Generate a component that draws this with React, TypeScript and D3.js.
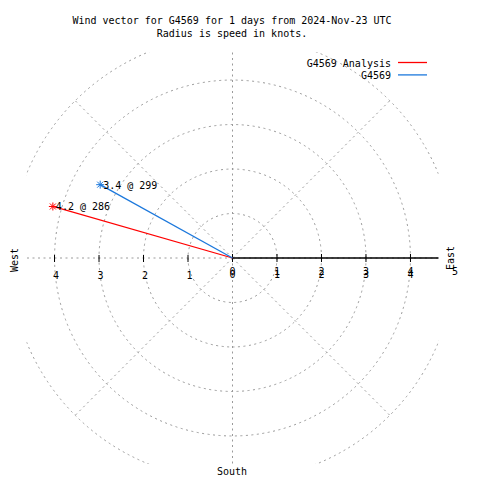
import React from "react";
import * as d3 from "d3";

// ---- data ----
const titleLines = [
  "Wind vector for G4569 for 1 days from 2024-Nov-23 UTC",
  "Radius is speed in knots.",
];
const seriesNames = ["G4569 Analysis", "G4569"];
const speeds = [4.2, 3.4]; // knots
const directions = [286, 299]; // degrees (compass)
const seriesColors = ["#ff0000", "#1c78dc"];
const ringValues = [1, 2, 3, 4, 5];
const spokeAngles = [0, 45, 90, 135, 180, 225, 270, 315];
const rightTicks = [0, 1, 2, 3, 4];
const rightTickLabels = ["0", "1", "2", "3", "4", "5"];
const leftTicks = [1, 2, 3, 4];
const rMax = 4.63;

const FONT = "'DejaVu Sans Mono', monospace";

export default function App() {
  const x = d3.scaleLinear().domain([-rMax, rMax]).range([26.5, 438.5]);
  const y = d3.scaleLinear().domain([-rMax, rMax]).range([464, 52]);
  const cx = x(0);
  const cy = y(0);
  const rad = (v: number) => x(v) - x(0);
  const polar = (r: number, deg: number) => {
    const a = (deg * Math.PI) / 180;
    return [x(r * Math.sin(a)), y(r * Math.cos(a))];
  };
  const grid = "#9a9a9a";
  const dash = "2,3.5";

  return (
    <svg
      width={480}
      height={480}
      style={{ position: "absolute", left: 0, top: 0, background: "#fff" }}
      fontFamily={FONT}
      fontSize={10}
    >
      <defs>
        <clipPath id="plotclip">
          <rect x={x(-rMax)} y={y(rMax)} width={x(rMax) - x(-rMax)} height={y(-rMax) - y(rMax)} />
        </clipPath>
      </defs>
      <rect width={480} height={480} fill="#fff" />
      {titleLines.map((t, i) => (
        <text key={i} x={232} y={24 + i * 13} textAnchor="middle" fill="#000">
          {t}
        </text>
      ))}

      <g clipPath="url(#plotclip)" fill="none" stroke={grid} strokeDasharray={dash} strokeWidth={1}>
        {ringValues.map((r) => (
          <circle key={r} cx={cx} cy={cy} r={rad(r)} />
        ))}
        {spokeAngles.map((a) => {
          const [px, py] = polar(ringValues[ringValues.length - 1], a);
          return <line key={a} x1={cx} y1={cy} x2={px} y2={py} />;
        })}
      </g>

      {/* radial axis */}
      <line x1={cx} y1={cy} x2={x(rMax)} y2={cy} stroke="#000" strokeWidth={1.5} />
      {rightTicks.map((t) => (
        <line key={"rt" + t} x1={x(t)} x2={x(t)} y1={cy - 4} y2={cy + 4} stroke="#000" strokeWidth={1} />
      ))}
      {leftTicks.map((t) => (
        <line key={"lt" + t} x1={x(-t)} x2={x(-t)} y1={cy - 3} y2={cy + 4} stroke="#000" strokeWidth={1} />
      ))}
      {rightTickLabels.map((l, i) => (
        <g key={"rl" + l}>
          <text x={x(i)} y={cy + 17} textAnchor="middle" fill="#000">
            {l}
          </text>
          {i < 5 && (
            <text x={x(i)} y={cy + 20} textAnchor="middle" fill="#000">
              {l}
            </text>
          )}
        </g>
      ))}
      {leftTicks.map((t) => (
        <text key={"ll" + t} x={x(-t) + 1.5} y={cy + 21} textAnchor="middle" fill="#000">
          {String(t)}
        </text>
      ))}

      {/* compass labels */}
      <text transform={`translate(18,260) rotate(-90)`} textAnchor="middle" fill="#000">
        West
      </text>
      <text transform={`translate(454,258) rotate(-90)`} textAnchor="middle" fill="#000">
        East
      </text>
      <text x={232} y={475} textAnchor="middle" fill="#000">
        South
      </text>

      {/* vectors */}
      {speeds.map((s, i) => {
        const [px, py] = polar(s, directions[i]);
        const c = seriesColors[i];
        return (
          <g key={"v" + i}>
            <line x1={cx} y1={cy} x2={px} y2={py} stroke={c} strokeWidth={1.3} />
            <g stroke={c} strokeWidth={1}>
              <line x1={px - 4} x2={px + 4} y1={py} y2={py} />
              <line x1={px} x2={px} y1={py - 4} y2={py + 4} />
              <line x1={px - 3} x2={px + 3} y1={py - 3} y2={py + 3} />
              <line x1={px - 3} x2={px + 3} y1={py + 3} y2={py - 3} />
            </g>
            <text x={px + 3} y={py + 4} fill="#000">
              {`${s.toFixed(1)} @ ${directions[i]}`}
            </text>
          </g>
        );
      })}

      {/* legend */}
      {seriesNames.map((n, i) => (
        <g key={"lg" + i}>
          <text x={391} y={66.5 + i * 12.4} textAnchor="end" fill="#000">
            {n}
          </text>
          <line x1={398} x2={427} y1={62.5 + i * 12.4} y2={62.5 + i * 12.4} stroke={seriesColors[i]} strokeWidth={1.3} />
        </g>
      ))}
    </svg>
  );
}
